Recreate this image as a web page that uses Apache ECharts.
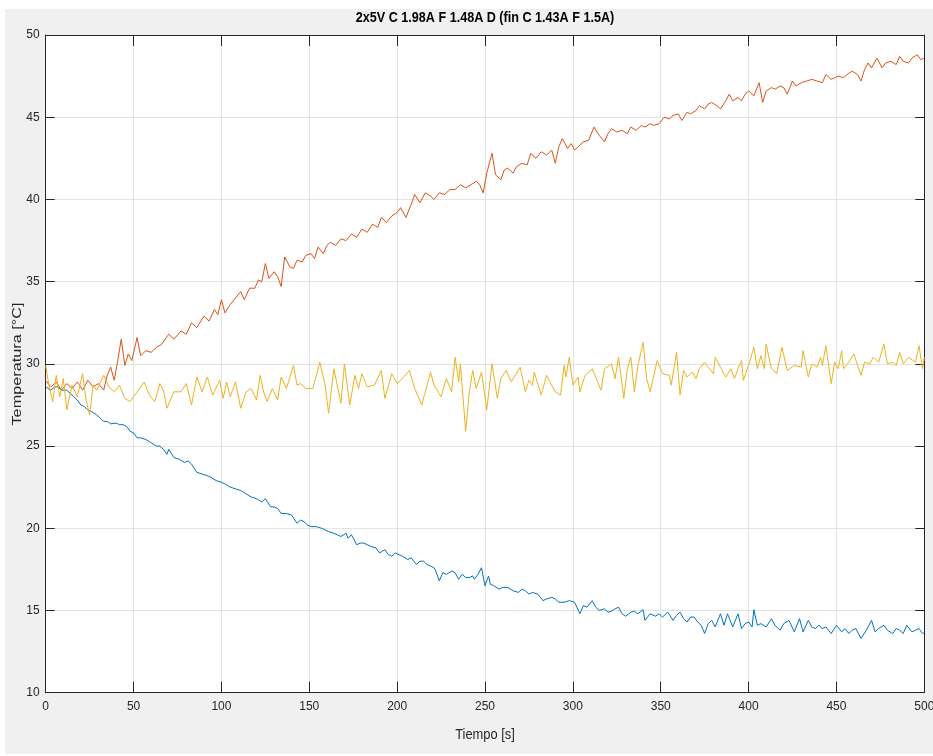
<!DOCTYPE html>
<html>
<head>
<meta charset="utf-8">
<title>Temperatura</title>
<script src="https://cdn.jsdelivr.net/npm/echarts@6/dist/echarts.min.js"></script>
<style>
  html, body { margin: 0; padding: 0; background: #fff; }
  #frame { position: absolute; left: 5px; top: 9px; width: 928px; height: 745px; background: #f0f0f0; }
  #main { position: absolute; left: 0; top: 0; width: 933px; height: 756px; }
</style>
</head>
<body>
<div id="frame"></div>
<div id="main"></div>
<script>
// ejes
var xTicks = [0, 500, 50];   // min, max, paso
var yTicks = [10, 50, 5];

// [tiempo s, temperatura °C]
var blue = [
  [0,28.6],[3,28.4],[5,28.6],[7,28.6],[9,28.4],[12,28.4],[14,28.2],[16,28.0],[18,27.8],[20,27.5],
  [22,27.4],[24,27.2],[26,27.1],[29,26.9],[31,26.7],[33,26.5],[35,26.5],[37,26.35],[40,26.4],[42,26.3],
  [44,26.3],[46,26.2],[48,25.9],[50,25.8],[52,25.5],[54,25.5],[57,25.4],[60,25.2],[63,25.0],[65,25.0],
  [67,24.8],[69,24.5],[70,24.8],[73,24.3],[76,24.2],[79,24.0],[81,24.1],[83,23.9],[86,23.4],[89,23.3],
  [92,23.2],[94,23.1],[97,22.9],[100,22.8],[102,22.7],[105,22.5],[108,22.4],[111,22.3],[114,22.1],[117,21.9],
  [120,21.8],[123,21.6],[125,21.8],[128,21.3],[130,21.3],[132,21.2],[134,20.9],[137,20.9],[140,20.8],[143,20.3],
  [145,20.5],[147,20.4],[149,20.2],[151,20.1],[154,20.1],[157,20.0],[159,19.9],[161,19.8],[164,19.7],[166,19.6],
  [168,19.5],[171,19.7],[172,19.4],[174,19.6],[177,19.0],[179,19.1],[181,19.1],[183,19.0],[185,18.9],[188,18.8],
  [190,18.5],[193,18.7],[195,18.4],[197,18.3],[199,18.5],[201,18.4],[203,18.3],[206,18.1],[208,18.2],[211,17.8],
  [213,18.0],[215,18.0],[217,17.8],[219,17.7],[221,17.6],[222,17.4],[224,16.8],[226,17.3],[228,17.2],[231,17.4],
  [233,17.3],[235,16.9],[237,17.2],[239,17.0],[241,17.0],[243,17.1],[244,16.9],[246,17.2],[248,17.6],[250,16.5],
  [252,17.1],[253,16.6],[255,16.5],[258,16.3],[260,16.4],[263,16.4],[266,16.2],[269,16.1],[271,16.3],[273,16.2],
  [275,16.0],[277,16.1],[280,16.0],[283,15.6],[285,15.7],[288,15.8],[290,15.7],[292,15.5],[295,15.5],[298,15.6],
  [301,15.5],[304,14.8],[306,15.3],[308,15.2],[311,15.6],[313,15.2],[315,15.0],[318,15.1],[320,14.9],[322,14.95],
  [324,15.1],[326,15.2],[328,14.8],[330,14.65],[333,14.9],[335,14.95],[337,14.8],[340,15.05],[341,14.4],[344,14.8],
  [347,14.65],[349,14.8],[351,14.6],[354,14.9],[357,14.4],[359,14.7],[361,14.9],[363,14.5],[365,14.3],[367,14.6],
  [369,14.6],[371,14.3],[373,14.1],[375,13.6],[377,14.2],[379,14.4],[381,14.0],[384,14.8],[386,14.1],[388,14.8],
  [391,14.0],[394,14.8],[396,13.9],[398,14.2],[400,14.3],[402,14.0],[403,15.05],[405,14.1],[407,14.2],[410,14.0],
  [413,14.5],[415,14.1],[418,13.8],[420,14.2],[423,14.4],[426,13.7],[429,14.5],[431,13.7],[434,14.4],[436,14.0],
  [438,13.9],[440,14.1],[442,13.9],[444,14.0],[447,13.6],[450,14.1],[453,13.7],[455,13.9],[457,13.6],[459,13.8],
  [461,13.9],[464,13.3],[467,13.8],[470,14.4],[472,13.7],[474,13.9],[477,14.1],[479,13.8],[482,13.6],[484,13.9],
  [486,13.8],[488,13.6],[490,14.1],[493,13.7],[495,13.8],[497,13.9],[499,13.6],[500,13.65]
];

var orange = [
  [0,29.0],[3,28.6],[6,28.9],[9,28.4],[12,28.8],[15,28.5],[18,28.9],[21,28.4],[24,29.0],[27,28.6],
  [30,28.8],[33,28.4],[35,29.3],[37,29.8],[39,29.0],[41,30.2],[43,31.5],[45,29.9],[47,30.6],[49,30.2],
  [52,31.6],[54,30.5],[57,30.8],[60,30.7],[63,31.0],[66,31.2],[70,31.8],[73,31.5],[77,32.0],[80,31.8],
  [83,32.5],[86,32.2],[90,32.9],[93,32.6],[96,33.3],[98,33.0],[100,33.9],[102,33.1],[105,33.6],[108,34.0],
  [111,34.4],[113,33.9],[116,34.6],[119,34.6],[121,35.1],[123,35.0],[125,36.1],[127,35.2],[130,35.6],[132,35.3],
  [134,34.7],[136,36.5],[139,35.9],[141,35.8],[143,36.3],[146,36.2],[148,36.6],[151,36.7],[153,36.4],[155,37.1],
  [158,36.7],[160,37.2],[162,37.4],[165,37.2],[168,37.6],[171,37.5],[174,37.9],[177,37.7],[180,38.2],[183,38.0],
  [186,38.5],[189,38.3],[191,38.9],[194,38.6],[197,39.0],[200,39.2],[202,39.5],[205,38.9],[208,39.7],[210,40.3],
  [213,39.8],[216,40.4],[219,40.2],[221,40.0],[224,40.4],[227,40.3],[230,40.6],[233,40.6],[236,40.9],[239,40.7],
  [242,40.9],[245,41.1],[247,40.9],[249,40.4],[251,41.6],[254,42.8],[256,41.5],[259,41.2],[261,41.8],[263,41.9],
  [266,41.6],[268,42.0],[271,42.2],[274,42.1],[276,42.8],[279,42.5],[282,42.9],[285,42.7],[288,43.0],[290,42.2],
  [292,43.2],[294,43.7],[297,43.1],[299,43.4],[301,43.0],[304,43.3],[306,43.5],[309,43.6],[312,44.4],[315,43.9],
  [318,43.5],[320,44.0],[322,44.3],[325,44.1],[328,44.2],[331,44.0],[333,44.4],[336,44.2],[339,44.5],[341,44.4],
  [344,44.6],[346,44.5],[349,44.6],[352,45.0],[355,44.9],[357,45.1],[360,45.2],[362,44.8],[365,45.3],[367,45.2],
  [370,45.4],[372,45.7],[375,45.5],[377,45.8],[379,45.9],[382,45.7],[384,45.5],[387,46.0],[389,46.4],[391,46.0],
  [394,46.2],[396,46.0],[398,46.4],[400,46.6],[403,46.3],[406,47.1],[408,45.9],[410,46.6],[413,46.8],[415,46.7],
  [418,46.9],[420,46.8],[422,46.4],[425,47.2],[427,46.9],[430,47.1],[433,47.2],[436,47.3],[439,47.2],[442,47.1],
  [444,47.6],[447,47.3],[449,47.4],[451,47.5],[454,47.4],[456,47.6],[459,47.8],[462,47.6],[464,47.2],[466,47.9],
  [468,48.3],[470,48.0],[473,48.6],[476,48.0],[478,48.3],[481,48.4],[484,48.2],[486,48.7],[488,48.4],[491,48.3],
  [493,48.6],[496,48.8],[498,48.5],[500,48.6]
];

var yellow = [
  [0,29.9],[2,28.6],[4,27.7],[6,29.3],[8,28.0],[10,29.1],[12,27.2],[15,28.7],[18,28.0],[21,29.4],
  [23,27.8],[25,26.9],[27,28.7],[29,28.4],[33,29.3],[36,28.6],[39,28.3],[42,28.7],[45,27.9],[48,27.7],
  [52,28.3],[56,28.9],[59,28.1],[62,27.7],[65,28.8],[67,28.4],[69,27.3],[73,28.3],[77,28.3],[80,28.8],
  [83,27.5],[86,29.2],[89,28.3],[92,29.2],[95,28.1],[99,29.0],[101,27.9],[103,28.9],[105,28.0],[108,28.9],
  [111,27.3],[114,28.3],[117,28.5],[120,27.8],[122,29.3],[124,28.3],[126,27.7],[129,28.5],[132,27.8],[134,29.2],
  [137,28.5],[141,29.9],[143,28.7],[145,28.8],[148,28.5],[152,28.5],[156,30.1],[159,28.7],[161,27.0],[164,29.7],
  [168,27.6],[170,30.0],[173,27.5],[176,29.3],[178,28.5],[180,29.4],[183,28.6],[187,28.7],[191,29.6],[193,27.9],
  [197,29.4],[200,28.8],[202,29.0],[207,29.6],[210,28.5],[214,27.5],[219,29.5],[221,28.7],[225,28.0],[228,29.1],
  [231,28.3],[233,30.4],[235,28.9],[236,30.0],[239,25.9],[241,28.2],[243,29.6],[245,28.5],[248,29.5],[251,27.2],
  [254,30.0],[257,27.9],[259,29.1],[262,29.6],[265,28.9],[270,29.8],[273,28.3],[275,29.0],[277,28.7],[278,29.5],
  [282,28.1],[285,29.3],[288,28.7],[290,28.3],[293,28.1],[295,29.9],[296,29.2],[298,30.4],[300,28.7],[303,29.2],
  [304,28.3],[307,29.3],[311,29.7],[313,29.2],[316,28.4],[318,29.7],[322,30.0],[324,29.1],[326,30.4],[329,27.9],
  [331,29.7],[333,30.4],[335,28.3],[337,29.9],[340,31.3],[342,29.1],[344,28.3],[348,30.2],[351,29.4],[355,29.3],
  [356,28.7],[359,30.7],[361,28.1],[363,29.6],[365,29.2],[368,29.5],[370,29.1],[372,29.7],[375,30.1],[377,29.8],
  [380,29.4],[381,30.4],[384,29.8],[387,29.2],[390,29.7],[392,29.1],[394,29.7],[396,30.2],[397,29.0],[400,29.9],
  [403,31.0],[405,29.7],[407,30.5],[409,29.7],[410,31.2],[413,29.7],[416,29.4],[419,31.0],[422,29.6],[426,29.9],
  [430,29.8],[431,30.8],[434,29.2],[436,30.0],[439,29.8],[441,30.4],[442,29.9],[444,31.1],[447,28.8],[449,30.1],
  [451,29.7],[453,30.8],[454,29.7],[457,30.1],[460,30.6],[462,29.9],[464,29.3],[466,30.1],[469,30.0],[471,30.4],
  [474,30.1],[477,31.2],[479,30.0],[482,30.1],[484,29.9],[486,30.7],[488,30.0],[491,30.4],[495,30.1],[497,31.1],
  [499,29.7],[500,30.4]
];

var FONT = '"Liberation Sans", Arial, sans-serif';
var INK = '#262626';

var chart = echarts.init(document.getElementById('main'));

function axisCommon(showLabel, tickLen) {
  return {
    axisLine: { show: true, onZero: false, lineStyle: { color: INK, width: 1 } },
    axisTick: { show: true, inside: true, length: tickLen, lineStyle: { color: INK, width: 1 } },
    axisLabel: { show: showLabel, color: INK, fontSize: 12, fontFamily: FONT },
    splitLine: { show: false }
  };
}

var xMain = Object.assign({ type: 'value', min: xTicks[0], max: xTicks[1], interval: xTicks[2] }, axisCommon(true, 11));
xMain.axisLabel.margin = 8;
xMain.splitLine = { show: true, lineStyle: { color: '#e3e3e3', width: 1 } };
var xTop = Object.assign({ type: 'value', position: 'top', min: xTicks[0], max: xTicks[1], interval: xTicks[2] }, axisCommon(false, 11));

var yMain = Object.assign({ type: 'value', min: yTicks[0], max: yTicks[1], interval: yTicks[2] }, axisCommon(true, 9));
yMain.axisLabel.margin = 6;
yMain.splitLine = { show: true, lineStyle: { color: '#e3e3e3', width: 1 } };
var yRight = Object.assign({ type: 'value', position: 'right', min: yTicks[0], max: yTicks[1], interval: yTicks[2] }, axisCommon(false, 9));

function line(name, data, color) {
  return {
    name: name, type: 'line', data: data, showSymbol: false, symbol: 'none',
    lineStyle: { color: color, width: 1 }, itemStyle: { color: color }, z: 3
  };
}

chart.setOption({
  animation: false,
  backgroundColor: 'transparent',
  grid: {
    left: 45.7, right: 8.7, top: 35, bottom: 63.3,
    outerBoundsMode: 'none', containLabel: false,
    show: true, backgroundColor: '#ffffff', borderWidth: 0
  },
  xAxis: [xMain, xTop],
  yAxis: [yMain, yRight],
  graphic: [
    { type: 'text', x: 485, y: 18, scaleX: 0.9, style: { text: '2x5V C 1.98A F 1.48A D (fin C 1.43A F 1.5A)', font: 'bold 14px ' + FONT, fill: '#000', align: 'center', verticalAlign: 'middle' } },
    { type: 'text', x: 485, y: 735, scaleX: 0.92, style: { text: 'Tiempo [s]', font: '14px ' + FONT, fill: INK, align: 'center', verticalAlign: 'middle' } },
    { type: 'text', x: 17, y: 364, rotation: Math.PI / 2, scaleX: 1.25, style: { text: 'Temperatura [°C]', font: '13px ' + FONT, fill: INK, align: 'center', verticalAlign: 'middle' } }
  ],
  series: [
    line('C', blue, '#0072BD'),
    line('F', orange, '#D95319'),
    line('D', yellow, '#EDB120')
  ]
});
</script>
</body>
</html>
